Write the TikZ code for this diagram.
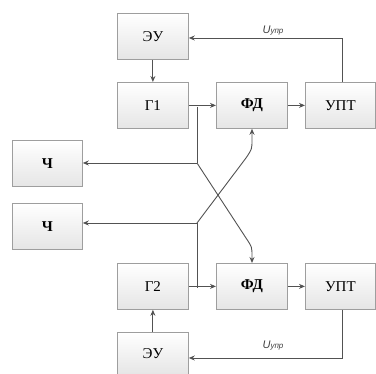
\documentclass[tikz,border=0pt]{standalone}
\usepackage{fontspec}
\setmainfont{Liberation Serif}
\newfontfamily\lsans{Liberation Sans}
\usetikzlibrary{arrows.meta}
\begin{document}
\begin{tikzpicture}[x=1pt,y=-1pt,
  blk/.style={draw=black!38,line width=0.8pt,top color=white,bottom color=black!10,
    minimum width=71pt,minimum height=46pt,inner sep=0pt,font=\rmfamily\fontsize{15}{15}\selectfont,anchor=north west},
  con/.style={draw=black!68,line width=0.9pt},
  arr/.style={con,-{Stealth[length=6pt,width=5pt]}},
  lab/.style={font=\lsans\itshape\fontsize{11}{11}\selectfont,text=black!75}]
\useasboundingbox (0,0) rectangle (376,374);
\node[blk] (eu1) at (117,13) {ЭУ};
\node[blk] (g1) at (117,82) {Г1};
\node[blk] (fd1) at (216,82) {\textbf{ФД}};
\node[blk,minimum width=70pt] (upt1) at (305,82) {УПТ};
\node[blk,minimum width=70pt] (ch1) at (12,140) {\textbf{Ч}};
\node[blk,minimum width=70pt] (ch2) at (12,203) {\textbf{Ч}};
\node[blk] (g2) at (117,263) {Г2};
\node[blk] (fd2) at (216,263) {\textbf{ФД}};
\node[blk,minimum width=70pt] (upt2) at (305,263) {УПТ};
\node[blk,minimum height=42pt] (eu2) at (117,332) {ЭУ};
% top loop
\draw[arr] (eu1.south) -- (g1.north);
\coordinate (t1) at (342,38);
\draw[arr] (upt1.north -| t1) -- (t1) -- (t1 -| eu1.east);
\node[lab] (u1) at (273,31) {U{\fontsize{8}{8}\selectfont упр}};
\draw[arr] (g1.east) -- (fd1.west);
\draw[arr] (fd1.east) -- (upt1.west);
% bottom loop
\draw[arr] (eu2.north) -- (g2.south);
\coordinate (t2) at (342,358);
\draw[arr] (upt2.south -| t2) -- (t2) -- (t2 -| eu2.east);
\node[lab] (u2) at (273,346) {U{\fontsize{8}{8}\selectfont упр}};
\draw[arr] (g2.east) -- (fd2.west);
\draw[arr] (fd2.east) -- (upt2.west);
% cross
\coordinate (j1) at (197,107);
\coordinate (k1) at (197,163);
\coordinate (j2) at (197,288);
\coordinate (k2) at (197,223);
\draw[con] (j1) -- (k1);
\draw[arr] (k1) -- (k1 -| ch1.east);
\draw[con] (j2) -- (k2);
\draw[arr] (k2) -- (k2 -| ch2.east);
\coordinate (d1) at (246,238);
\coordinate (d2) at (246,158);
\draw[arr] (k1) -- (d1) .. controls (252,247) .. (252,256) -- (fd2.north -| 252,0);
\draw[arr] (k2) -- (d2) .. controls (252,149) .. (252,140) -- (fd1.south -| 252,0);
\end{tikzpicture}
\end{document}
